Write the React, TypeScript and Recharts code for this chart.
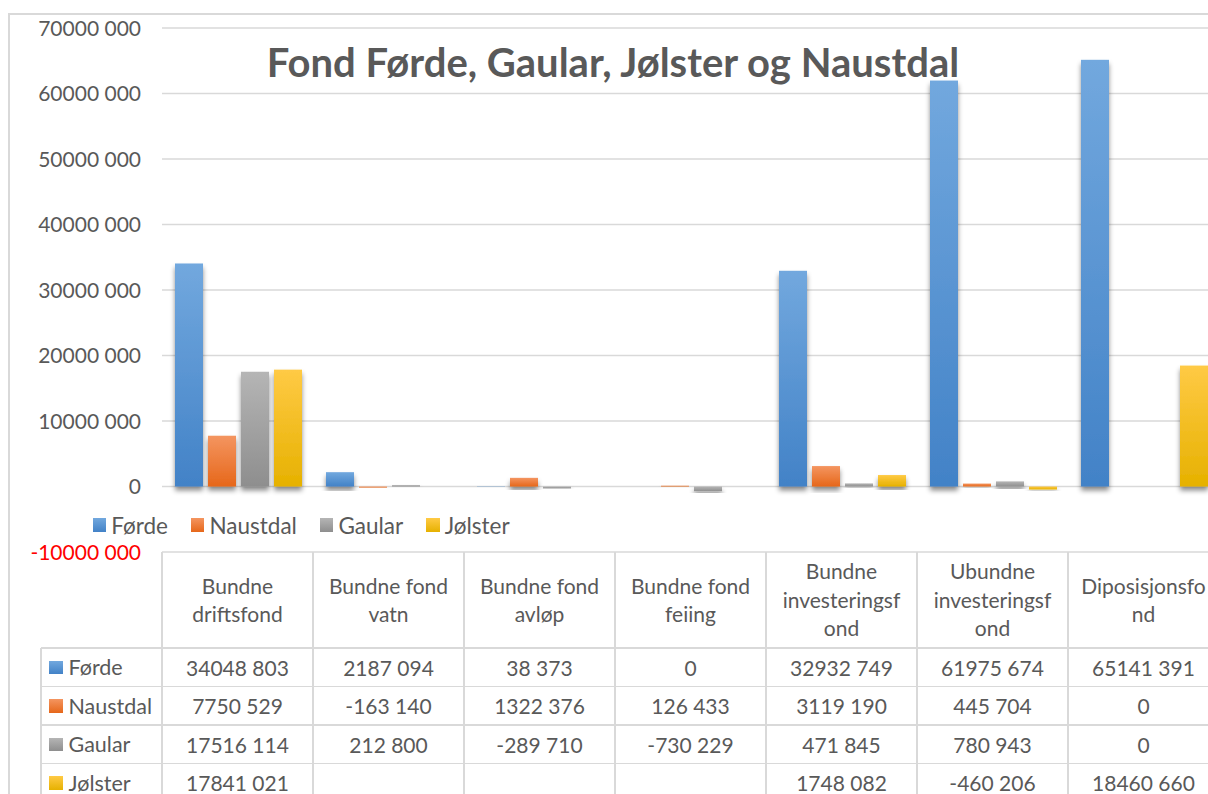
import React from "react";
import { BarChart, Bar, XAxis, YAxis, CartesianGrid } from "recharts";

const categories = [
  "Bundne driftsfond",
  "Bundne fond vatn",
  "Bundne fond avløp",
  "Bundne fond feiing",
  "Bundne investeringsfond",
  "Ubundne investeringsfond",
  "Diposisjonsfond",
];

// header text as Excel wraps it in the narrow table columns
const headerLines = [
  ["Bundne", "driftsfond"],
  ["Bundne fond", "vatn"],
  ["Bundne fond", "avløp"],
  ["Bundne fond", "feiing"],
  ["Bundne", "investeringsf", "ond"],
  ["Ubundne", "investeringsf", "ond"],
  ["Diposisjonsfo", "nd"],
];

const forde = [34048803, 2187094, 38373, 0, 32932749, 61975674, 65141391];
const naustdal = [7750529, -163140, 1322376, 126433, 3119190, 445704, 0];
const gaular = [17516114, 212800, -289710, -730229, 471845, 780943, 0];
const jolster = [17841021, null, null, null, 1748082, -460206, 18460660];

const yTicks = [-10000000, 0, 10000000, 20000000, 30000000, 40000000, 50000000, 60000000, 70000000];

const series = [
  { key: "forde", name: "Førde", values: forde, top: "#72a8de", bottom: "#4282c7" },
  { key: "naustdal", name: "Naustdal", values: naustdal, top: "#f49560", bottom: "#e6671a" },
  { key: "gaular", name: "Gaular", values: gaular, top: "#b5b5b5", bottom: "#8e8e8e" },
  { key: "jolster", name: "Jølster", values: jolster, top: "#ffca45", bottom: "#e6b100" },
];

const chartData = categories.map((name, i) => {
  const row: any = { name };
  series.forEach((s) => {
    row[s.key] = s.values[i];
  });
  return row;
});

// Norwegian style: only the last group of three is split off
const fmt = (v: number | null) => {
  if (v === null || v === undefined) return "";
  const abs = Math.abs(v);
  if (abs < 1000) return String(v);
  const sign = v < 0 ? "-" : "";
  return `${sign}${Math.floor(abs / 1000)} ${String(abs % 1000).padStart(3, "0")}`;
};

const FONT = "Lato, 'Open Sans', sans-serif";
const TEXT = "#595959";
const LINE = "#d9d9d9";

// page coordinates from here on
const PLOT_LEFT = 162;
const COL_W = 151;
const TABLE_TOP = 552;
const HEADER_H = 96;
const ROW_H = 38.5;
const LABEL_LEFT = 41;

const YTick = (props: any) => {
  const { y, payload } = props;
  return (
    <text
      x={133}
      y={y}
      dy="0.36em"
      textAnchor="end"
      fontFamily={FONT}
      fontSize={21}
      fill={payload.value < 0 ? "#ff0000" : TEXT}
    >
      {fmt(payload.value)}
    </text>
  );
};

const makeShape = (key: string) => (props: any) => {
  const { x, y, width, height } = props;
  if (width === undefined || height === undefined || height === 0) return <g />;
  const top = Math.min(y, y + height);
  const h = Math.abs(height);
  return (
    <rect
      x={x}
      y={top}
      width={width}
      height={h}
      fill={`url(#grad-${key})`}
      filter="url(#barShadow)"
    />
  );
};

const Swatch = ({ s }: { s: (typeof series)[number] }) => (
  <span
    style={{
      display: "inline-block",
      width: 13.5,
      height: 13.5,
      background: `linear-gradient(${s.top}, ${s.bottom})`,
      flexShrink: 0,
    }}
  />
);

export default function App() {
  const hLines = [TABLE_TOP + HEADER_H, ...series.map((_, i) => TABLE_TOP + HEADER_H + (i + 1) * ROW_H)];
  return (
    <div
      style={{
        position: "fixed",
        left: 0,
        top: 0,
        width: 1208,
        height: 794,
        overflow: "hidden",
        background: "#fff",
        fontFamily: FONT,
        color: TEXT,
      }}
    >
      {/* outer chart frame */}
      <div style={{ position: "absolute", left: 8, top: 13, width: 1200, height: 1.5, background: LINE }} />
      <div style={{ position: "absolute", left: 8, top: 13, width: 1.5, height: 800, background: LINE }} />

      <div style={{ position: "absolute", left: 8, top: 8 }}>
        <BarChart
          width={PLOT_LEFT - 8 + COL_W * categories.length}
          height={560}
          data={chartData}
          margin={{ top: 20, right: 0, bottom: 16, left: 0 }}
          barCategoryGap={13}
          barGap={5}
        >
          <defs>
            {series.map((s) => (
              <linearGradient key={s.key} id={`grad-${s.key}`} x1="0" y1="0" x2="0" y2="1">
                <stop offset="0%" stopColor={s.top} />
                <stop offset="100%" stopColor={s.bottom} />
              </linearGradient>
            ))}
            <filter id="barShadow" x="-40%" y="-10%" width="180%" height="140%">
              <feDropShadow dx="0" dy="4" stdDeviation="2.6" floodColor="#000" floodOpacity="0.45" />
            </filter>
          </defs>
          <CartesianGrid horizontal vertical={false} stroke={LINE} strokeWidth={1.5} />
          <XAxis dataKey="name" hide />
          <YAxis
            width={PLOT_LEFT - 8}
            domain={[-10000000, 70000000]}
            ticks={yTicks}
            interval={0}
            axisLine={false}
            tickLine={false}
            tick={(p: any) => <YTick {...p} y={p.y} />}
          />
          {series.map((s) => (
            <Bar
              key={s.key}
              dataKey={s.key}
              name={s.name}
              isAnimationActive={false}
              shape={makeShape(s.key)}
            />
          ))}
        </BarChart>
      </div>

      {/* title */}
      <div
        style={{
          position: "absolute",
          left: 0,
          width: 1226,
          top: 38,
          textAlign: "center",
          fontSize: 40,
          fontWeight: 700,
          lineHeight: "48px",
          whiteSpace: "nowrap",
        }}
      >
        Fond Førde, Gaular, Jølster og Naustdal
      </div>

      {/* legend */}
      <div
        style={{
          position: "absolute",
          left: 92.7,
          top: 511,
          height: 28,
          display: "flex",
          alignItems: "center",
          gap: 23,
          fontSize: 22.5,
        }}
      >
        {series.map((s) => (
          <div key={s.key} style={{ display: "flex", alignItems: "center", gap: 5 }}>
            <Swatch s={s} />
            <span>{s.name}</span>
          </div>
        ))}
      </div>

      {/* data table lines */}
      {hLines.map((y, i) => (
        <div
          key={`h${i}`}
          style={{ position: "absolute", left: LABEL_LEFT, top: y - 0.75, width: 1200, height: 1.5, background: LINE }}
        />
      ))}
      <div
        style={{ position: "absolute", left: LABEL_LEFT - 0.75, top: TABLE_TOP + HEADER_H, width: 1.5, height: 200, background: LINE }}
      />
      {categories.map((_, i) => (
        <div
          key={`v${i}`}
          style={{
            position: "absolute",
            left: PLOT_LEFT + i * COL_W - 0.75,
            top: TABLE_TOP,
            width: 1.5,
            height: 260,
            background: LINE,
          }}
        />
      ))}

      {/* header cells */}
      {headerLines.map((lines, i) => (
        <div
          key={`hd${i}`}
          style={{
            position: "absolute",
            left: PLOT_LEFT + i * COL_W,
            top: TABLE_TOP,
            width: COL_W,
            height: HEADER_H,
            display: "flex",
            flexDirection: "column",
            justifyContent: "center",
            alignItems: "center",
            fontSize: 21,
            lineHeight: "28.5px",
            whiteSpace: "nowrap",
          }}
        >
          {lines.map((l, j) => (
            <div key={j}>{l}</div>
          ))}
        </div>
      ))}

      {/* row labels and values */}
      {series.map((s, r) => (
        <React.Fragment key={s.key}>
          <div
            style={{
              position: "absolute",
              left: LABEL_LEFT + 8,
              top: TABLE_TOP + HEADER_H + r * ROW_H,
              height: ROW_H,
              display: "flex",
              alignItems: "center",
              gap: 6,
              fontSize: 21.5,
              whiteSpace: "nowrap",
            }}
          >
            <Swatch s={s} />
            <span>{s.name}</span>
          </div>
          {s.values.map((v, i) => (
            <div
              key={i}
              style={{
                position: "absolute",
                left: PLOT_LEFT + i * COL_W,
                top: TABLE_TOP + HEADER_H + r * ROW_H,
                width: COL_W,
                height: ROW_H,
                display: "flex",
                alignItems: "center",
                justifyContent: "center",
                fontSize: 21,
                whiteSpace: "nowrap",
              }}
            >
              {fmt(v)}
            </div>
          ))}
        </React.Fragment>
      ))}
    </div>
  );
}
